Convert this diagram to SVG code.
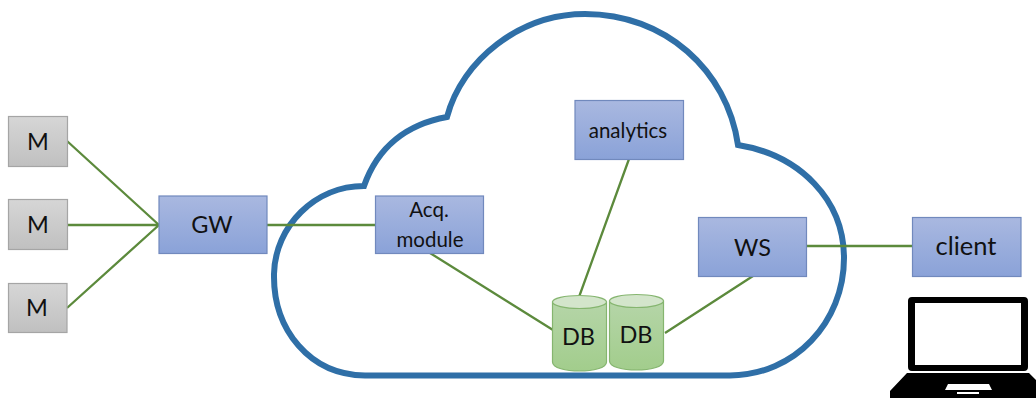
<svg xmlns="http://www.w3.org/2000/svg" width="1036" height="398" viewBox="0 0 1036 398">
<defs>
<linearGradient id="blue" x1="0" y1="0" x2="0" y2="1"><stop offset="0" stop-color="#a9b8e0"/><stop offset="1" stop-color="#8aa2d8"/></linearGradient>
<linearGradient id="gray" x1="0" y1="0" x2="0" y2="1"><stop offset="0" stop-color="#d6d6d6"/><stop offset="1" stop-color="#c0c0c0"/></linearGradient>
<linearGradient id="green" x1="0" y1="0" x2="0" y2="1"><stop offset="0" stop-color="#b5d5a8"/><stop offset="1" stop-color="#a2cd8c"/></linearGradient>
</defs>
<style>
text{font-family:"Lato","Open Sans",sans-serif;fill:#111;text-anchor:middle}
.b{fill:url(#blue);stroke:#7189bd;stroke-width:1.2}
.g{fill:url(#gray);stroke:#a5a5a5;stroke-width:1.2}
.c{fill:url(#green);stroke:#85b56f;stroke-width:1.2}
.t{fill:#d3e5cb;stroke:#85b56f;stroke-width:1.2}
.l{fill:none;stroke:#5c8a3c;stroke-width:2.300}
.caps{font-size:23.500px}.big{font-size:25.500px}.small{font-size:20.500px}
</style>
<path id="cloud" d="M365 375.500C310 375 273 330 274 274C275 226 315 186 364 186C378 146 408 124 447 117C462 60 520 14 585 14C665 14 727 70 738 145C800 155 844 200 844 258C844 322 795 375 730 375.500Z" fill="none" stroke="#2f6fa7" stroke-width="6" stroke-linejoin="miter"/>
<g id="connectors">
<path class="l" d="M67 141L159 225M67 225H159M67 308L159 225M267 225H375M430 253L553 330M629 159L579 297M665 333L753 276M806 246H912"/>
</g>
<g id="m1"><rect class="g" x="8.500" y="116.500" width="59" height="50"/><text class="caps" x="38" y="150">M</text></g>
<g id="m2"><rect class="g" x="8.500" y="199.500" width="59" height="50"/><text class="caps" x="38" y="233">M</text></g>
<g id="m3"><rect class="g" x="8.500" y="283.500" width="58.500" height="49"/><text class="caps" x="37" y="316">M</text></g>
<g id="gw"><rect class="b" x="159" y="196" width="108" height="57.500"/><text class="caps" x="212" y="233">GW</text></g>
<g id="acq"><rect class="b" x="375.500" y="196" width="108" height="57.500"/><text class="small" x="429" y="217">Acq.</text><text class="small" x="430" y="247">module</text></g>
<g id="analytics"><rect class="b" x="575" y="100.500" width="108.500" height="59"/><text class="small" x="628" y="138">analytics</text></g>
<g id="ws"><rect class="b" x="698.500" y="217.500" width="108" height="59"/><text class="caps" x="752.500" y="256">WS</text></g>
<g id="client"><rect class="b" x="912.500" y="217.500" width="108.500" height="59"/><text class="big" x="966" y="255">client</text></g>
<g id="db1"><path class="c" d="M552.500 302V362C552.500 374 606.500 374 606.500 362V302Z"/><ellipse class="t" cx="579.500" cy="302" rx="27" ry="6.500"/><text class="caps" x="578.500" y="345">DB</text></g>
<g id="db2"><path class="c" d="M609.500 301V361C609.500 373 663.500 373 663.500 361V301Z"/><ellipse class="t" cx="636.500" cy="301" rx="27" ry="6.500"/><text class="caps" x="636" y="343">DB</text></g>
<g id="laptop">
<path d="M912 297H1024Q1028 297 1028 301V367Q1028 371 1024 371H912Q908 371 908 367V301Q908 297 912 297ZM915 303V365H1021V303Z" fill="#000" fill-rule="evenodd"/>
<path d="M907 373H1029L1036 380V398H890V391ZM948 384L945 390H992L989 384ZM957 392V394H979V392Z" fill="#000" fill-rule="evenodd"/>
</g>
</svg>
